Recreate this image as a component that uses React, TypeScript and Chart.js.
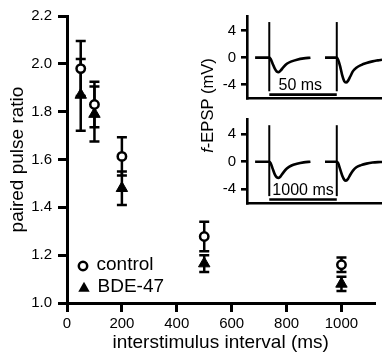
import React, { useEffect, useRef } from "react";
import { Chart, registerables } from "chart.js";

Chart.register(...registerables);

const FONT = "'Liberation Sans', Arial, Helvetica, sans-serif";

// ---- Main plot data ----
const intervals = [50, 100, 200, 500, 1000];
const controlMean = [1.98, 1.83, 1.613, 1.278, 1.16];
const controlErr = [0.115, 0.095, 0.08, 0.062, 0.03];
const bdeMean = [1.87, 1.79, 1.48, 1.165, 1.08];
const bdeErr = [0.15, 0.115, 0.07, 0.035, 0.03];
const seriesNames = ["control", "BDE-47"];
const xTicks = [0, 200, 400, 600, 800, 1000];
const yTicks = [1.0, 1.2, 1.4, 1.6, 1.8, 2.0, 2.2];

// ---- Inset data (time in ms, f-EPSP in mV) ----
const insetYTicks = [-4, 0, 4];
const stimTimes = [16.5, 66.5];
const artifactRange = [-5, 5.3];
const scaleBarY = -5.5;
const insetLabels = ["50 ms", "1000 ms"];
const insetLabelX = [39.5, 41.5];

const traceA_t = [6, 10, 14, 16.5, 17.5, 19, 20.5, 22, 23.5, 25, 27, 29.5, 33, 37, 42, 47];
const traceB_t = [57.8, 62, 66.5, 67.5, 69, 70.5, 72, 73.3, 74.8, 76.5, 78.5, 81, 84.5, 88.5, 93, 97, 100];

const inset50_first = [0, 0, 0, 0, -0.2, -0.9, -1.6, -2.05, -2.15, -1.9, -1.4, -0.9, -0.55, -0.3, -0.1, 0];
const inset50_second = [0, 0, 0, -0.3, -1.3, -2.6, -3.5, -3.7, -3.45, -2.8, -2.0, -1.5, -1.1, -0.8, -0.55, -0.4, -0.3];
const inset1000_first = [0, 0, 0, 0, -0.2, -1.0, -1.8, -2.25, -2.35, -2.1, -1.55, -1.0, -0.55, -0.3, -0.1, 0];
const inset1000_second = [0, 0, 0, -0.2, -1.1, -2.0, -2.6, -2.75, -2.5, -1.9, -1.3, -0.8, -0.5, -0.28, -0.12, -0.06, -0.05];

const errorBarPlugin = {
  id: "errorBars",
  beforeDatasetsDraw(chart: any) {
    const { ctx } = chart;
    const x = chart.scales.x;
    const y = chart.scales.y;
    ctx.save();
    ctx.strokeStyle = "#000";
    ctx.lineWidth = 2.5;
    const draw = (means: number[], errs: number[]) => {
      means.forEach((m, i) => {
        const px = x.getPixelForValue(intervals[i]);
        const top = y.getPixelForValue(m + errs[i]);
        const bot = y.getPixelForValue(m - errs[i]);
        ctx.beginPath();
        ctx.moveTo(px, top);
        ctx.lineTo(px, bot);
        ctx.moveTo(px - 5, top);
        ctx.lineTo(px + 5, top);
        ctx.moveTo(px - 5, bot);
        ctx.lineTo(px + 5, bot);
        ctx.stroke();
      });
    };
    draw(bdeMean, bdeErr);
    draw(controlMean, controlErr);
    ctx.restore();
  },
};

const legendPlugin = {
  id: "insideLegend",
  afterDraw(chart: any) {
    const { ctx, chartArea } = chart;
    const l = chartArea.left;
    const b = chartArea.bottom;
    ctx.save();
    // circle
    ctx.beginPath();
    ctx.arc(l + 16, b - 37, 4.2, 0, Math.PI * 2);
    ctx.fillStyle = "#fff";
    ctx.fill();
    ctx.lineWidth = 2.5;
    ctx.strokeStyle = "#000";
    ctx.stroke();
    // triangle
    const cx = l + 17;
    const cy = b - 14.6;
    const r = 6.6;
    ctx.beginPath();
    ctx.moveTo(cx, cy - r);
    ctx.lineTo(cx + 0.866 * r, cy + 0.5 * r);
    ctx.lineTo(cx - 0.866 * r, cy + 0.5 * r);
    ctx.closePath();
    ctx.fillStyle = "#000";
    ctx.fill();
    ctx.font = `19px ${FONT}`;
    ctx.textAlign = "left";
    ctx.textBaseline = "alphabetic";
    ctx.fillText(seriesNames[0], l + 29.5, b - 33);
    ctx.fillText(seriesNames[1], l + 30.5, b - 11.5);
    // inset y title: f-EPSP (mV)
    ctx.translate(212.5, 105.5);
    ctx.rotate(-Math.PI / 2);
    ctx.font = `italic 16.5px ${FONT}`;
    const wf = ctx.measureText("f").width;
    ctx.font = `16.5px ${FONT}`;
    const wr = ctx.measureText("-EPSP (mV)").width;
    const start = -(wf + wr) / 2;
    ctx.font = `italic 16.5px ${FONT}`;
    ctx.fillText("f", start, 0);
    ctx.font = `16.5px ${FONT}`;
    ctx.fillText("-EPSP (mV)", start + wf, 0);
    ctx.restore();
  },
};

function mainConfig(): any {
  return {
    type: "scatter",
    data: {
      datasets: [
        {
          label: seriesNames[0],
          data: intervals.map((x, i) => ({ x, y: controlMean[i] })),
          pointStyle: "circle",
          pointRadius: 4.2,
          pointBorderWidth: 2.5,
          pointBackgroundColor: "#fff",
          pointBorderColor: "#000",
        },
        {
          label: seriesNames[1],
          data: intervals.map((x, i) => ({ x, y: bdeMean[i] })),
          pointStyle: "triangle",
          pointRadius: 6.6,
          pointBorderWidth: 1,
          pointBackgroundColor: "#000",
          pointBorderColor: "#000",
        },
      ],
    },
    options: {
      responsive: false,
      animation: false,
      events: [],
      layout: { padding: { top: 16, right: 0, bottom: 0, left: 0 } },
      plugins: { legend: { display: false }, tooltip: { enabled: false } },
      scales: {
        x: {
          type: "linear",
          min: 0,
          max: 1120,
          afterBuildTicks: (s: any) => {
            s.ticks = xTicks.map((v) => ({ value: v }));
          },
          afterFit: (s: any) => {
            s.height = 52;
          },
          ticks: {
            font: { family: FONT, size: 15 },
            color: "#000",
            padding: 3,
            maxRotation: 0,
            autoSkip: false,
            callback: (v: any) => String(v),
          },
          grid: { drawOnChartArea: false, drawTicks: true, tickLength: 9, lineWidth: 3, color: "#000" },
          border: { display: true, width: 3, color: "#000" },
          title: {
            display: true,
            text: "interstimulus interval (ms)",
            font: { family: FONT, size: 19 },
            color: "#000",
            padding: { top: 0, bottom: 1 },
          },
        },
        y: {
          type: "linear",
          min: 1.0,
          max: 2.2,
          afterBuildTicks: (s: any) => {
            s.ticks = yTicks.map((v) => ({ value: v }));
          },
          afterFit: (s: any) => {
            s.width = 67;
          },
          ticks: {
            font: { family: FONT, size: 15 },
            color: "#000",
            padding: 6,
            autoSkip: false,
            callback: (v: any) => Number(v).toFixed(1),
          },
          grid: { drawOnChartArea: false, drawTicks: true, tickLength: 9, lineWidth: 3, color: "#000" },
          border: { display: true, width: 3, color: "#000" },
          title: {
            display: true,
            text: "paired pulse ratio",
            font: { family: FONT, size: 19 },
            color: "#000",
            padding: { top: 6, bottom: 0 },
          },
        },
      },
    },
    plugins: [errorBarPlugin, legendPlugin],
  };
}

function insetConfig(idx: number, padTop: number): any {
  const first = idx === 0 ? inset50_first : inset1000_first;
  const second = idx === 0 ? inset50_second : inset1000_second;
  const traceStyle = {
    showLine: true,
    pointRadius: 0,
    borderColor: "#000",
    borderWidth: 2.6,
    cubicInterpolationMode: "monotone",
  };
  const lineStyle = { showLine: true, pointRadius: 0, borderColor: "#000", borderWidth: 2 };
  const labelPlugin = {
    id: "insetLabel" + idx,
    afterDatasetsDraw(chart: any) {
      const { ctx } = chart;
      const x = chart.scales.x;
      const y = chart.scales.y;
      ctx.save();
      ctx.font = `16px ${FONT}`;
      ctx.fillStyle = "#000";
      ctx.textAlign = "center";
      ctx.textBaseline = "alphabetic";
      ctx.fillText(insetLabels[idx], x.getPixelForValue(insetLabelX[idx]), y.getPixelForValue(-4.8));
      ctx.restore();
    },
  };
  return {
    type: "scatter",
    data: {
      datasets: [
        { ...traceStyle, data: traceA_t.map((t, i) => ({ x: t, y: first[i] })) },
        { ...traceStyle, data: traceB_t.map((t, i) => ({ x: t, y: second[i] })) },
        { ...lineStyle, data: artifactRange.map((v) => ({ x: stimTimes[0], y: v })) },
        { ...lineStyle, data: artifactRange.map((v) => ({ x: stimTimes[1], y: v })) },
        { ...lineStyle, borderWidth: 2.6, data: stimTimes.map((t) => ({ x: t, y: scaleBarY })) },
      ],
    },
    options: {
      responsive: false,
      animation: false,
      events: [],
      layout: { padding: { top: padTop, right: 0, bottom: 8, left: 0 } },
      plugins: { legend: { display: false }, tooltip: { enabled: false } },
      scales: {
        x: {
          type: "linear",
          min: 0,
          max: 100,
          ticks: { display: false },
          grid: { display: false },
          border: { display: true, width: 2.6, color: "#000" },
          afterFit: (s: any) => {
            s.height = 0;
          },
        },
        y: {
          type: "linear",
          min: -6,
          max: 6.2,
          afterBuildTicks: (s: any) => {
            s.ticks = insetYTicks.map((v) => ({ value: v }));
          },
          afterFit: (s: any) => {
            s.width = 47;
          },
          ticks: {
            font: { family: FONT, size: 15 },
            color: "#000",
            padding: 5,
            autoSkip: false,
            callback: (v: any) => String(v),
          },
          grid: { drawOnChartArea: false, drawTicks: true, tickLength: 6, lineWidth: 2.6, color: "#000" },
          border: { display: true, width: 2.6, color: "#000" },
        },
      },
    },
    plugins: [labelPlugin],
  };
}

function ChartCanvas(props: { make: () => any; left: number; top: number; width: number; height: number }) {
  const ref = useRef<HTMLCanvasElement>(null);
  useEffect(() => {
    const chart = new Chart(ref.current as HTMLCanvasElement, props.make());
    return () => chart.destroy();
  }, []);
  return (
    <canvas
      ref={ref}
      width={props.width}
      height={props.height}
      style={{
        position: "absolute",
        left: props.left,
        top: props.top,
        width: props.width,
        height: props.height,
        display: "block",
      }}
    />
  );
}

export default function App() {
  return (
    <div style={{ position: "absolute", left: 0, top: 0, width: 382, height: 355, background: "#fff", overflow: "hidden" }}>
      <ChartCanvas make={mainConfig} left={0} top={0} width={382} height={355} />
      <ChartCanvas make={() => insetConfig(0, 16)} left={200} top={0} width={182} height={112} />
      <ChartCanvas make={() => insetConfig(1, 14)} left={200} top={105} width={182} height={112} />
    </div>
  );
}
